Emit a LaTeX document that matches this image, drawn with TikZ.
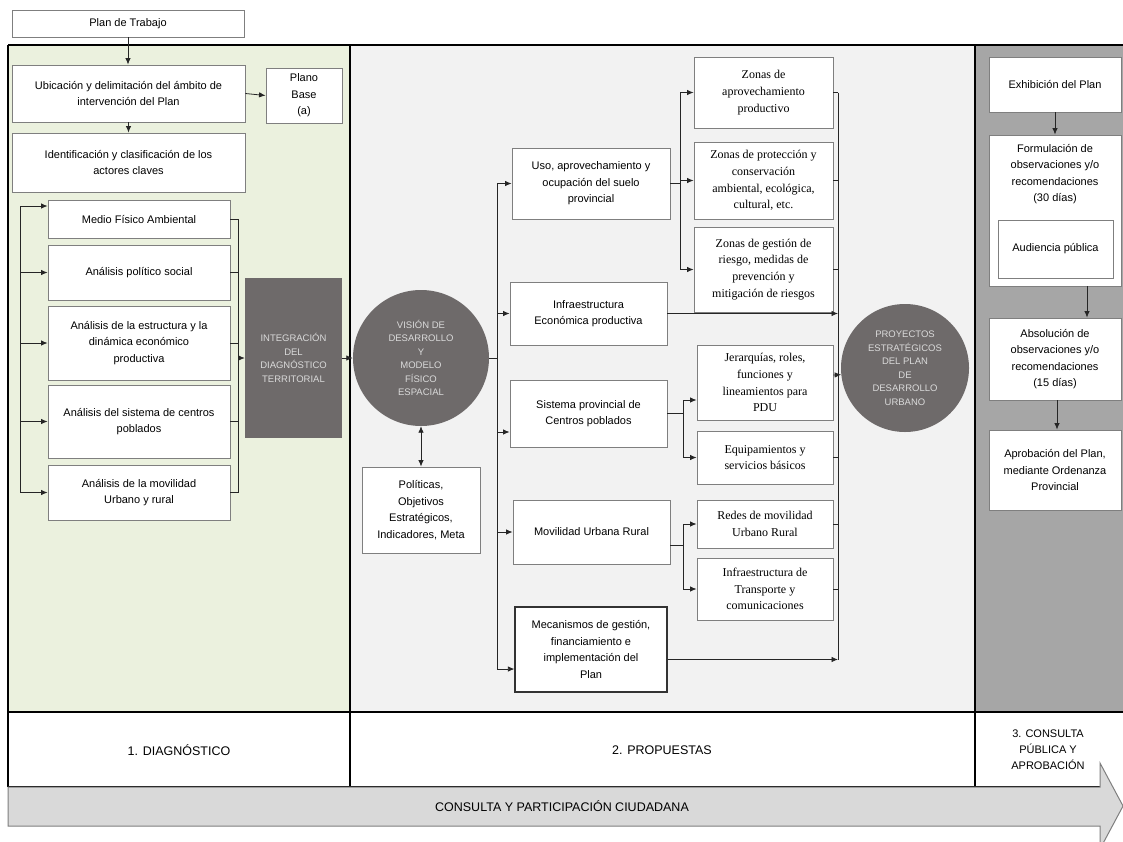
\documentclass[tikz,border=0pt]{standalone}
\usepackage{fontspec}
\setmainfont{Liberation Sans}
\newfontfamily\zserif{Liberation Serif}
\usetikzlibrary{arrows.meta,calc}
\definecolor{pgreen}{HTML}{EBF1DE}
\definecolor{pmid}{HTML}{F2F2F2}
\definecolor{pright}{HTML}{A6A6A6}
\definecolor{dgray}{HTML}{6E6A6A}
\definecolor{tlight}{HTML}{DADADA}
\definecolor{bgray}{HTML}{7F7F7F}
\definecolor{afill}{HTML}{D9D9D9}
\newcommand\fsA{\fontsize{11}{16.5}\selectfont}
\newcommand\fsS{\zserif\fontsize{12}{16.8}\selectfont}
\newcommand\fsC{\fontsize{9.5}{13.5}\selectfont}
\newcommand\fsL{\fontsize{12.5}{15}\selectfont}
\tikzset{
  box/.style={draw=bgray, fill=white, line width=0.9pt, align=center, inner sep=1pt, font=\fsA},
  sbox/.style={box, font=\fsS},
  dark/.style={fill=dgray, draw=none, align=center, text=tlight, font=\fsC, inner sep=1pt},
  disc/.style={circle, dark},
  ar/.style={-{Latex[length=6.5pt,width=5.5pt]}, line width=0.8pt, draw=black!85},
  dar/.style={{Latex[length=6.5pt,width=5.5pt]}-{Latex[length=6.5pt,width=5.5pt]}, line width=0.8pt, draw=black!85},
  ln/.style={line width=0.8pt, draw=black!85},
  framel/.style={line width=2pt, draw=black},
  lab/.style={font=\fsL, align=center}
}
\begin{document}
\begin{tikzpicture}[x=1pt,y=-1pt]
\useasboundingbox (0,0) rectangle (1123,841);
\fill[white] (0,0) rectangle (1123,841);
% panels
\fill[pgreen] (8,45) rectangle (350,712);
\fill[pmid] (350,45) rectangle (975,712);
\fill[pright] (975,45) rectangle (1123,712);
\fill[white] (8,712) rectangle (1123,787);
\draw[framel] (8,45) -- (1123,45);
\draw[framel] (8,45) -- (8,787);
\draw[framel] (350,45) -- (350,787);
\draw[framel] (975,45) -- (975,787);
\draw[framel] (8,712) -- (1123,712);
\draw[framel] (8,787) -- (1100,787);
% bottom arrow
\draw[fill=afill, draw=bgray, line width=1pt] (8,787) -- (1100,787) -- (1100,763) -- (1123,806) -- (1100,849) -- (1100,826) -- (8,826) -- cycle;
\node[lab] (cpc) at (562,806) {CONSULTA Y PARTICIPACIÓN CIUDADANA};
\node[lab] (lab1) at (179,750) {1. DIAGNÓSTICO};
\node[lab] (lab2) at (662,750) {2. PROPUESTAS};
\node[font=\fontsize{11}{16}\selectfont, align=center] (lab3) at (1048,750) {3. CONSULTA\\PÚBLICA Y\\APROBACIÓN};

% ---- panel 1
\node[box, minimum width=232, minimum height=27] (plan) at (128,23.5) {Plan de Trabajo};
\node[box, minimum width=233, minimum height=57] (ubic) at (128.5,93.5) {Ubicación y delimitación del ámbito de\\intervención del Plan};
\node[box, minimum width=76, minimum height=55] (plano) at (304,95.5) {Plano\\Base\\(a)};
\node[box, minimum width=233, minimum height=59] (ident) at (128.5,162.5) {Identificación y clasificación de los\\actores claves};
\node[box, minimum width=182, minimum height=38] (medio) at (139,219) {Medio Físico Ambiental};
\node[box, minimum width=182, minimum height=55] (polit) at (139,272.5) {Análisis político social};
\node[box, minimum width=182, minimum height=74] (estr) at (139,343) {Análisis de la estructura y la\\dinámica económico\\productiva};
\node[box, minimum width=182, minimum height=73] (sist1) at (139,421.5) {Análisis del sistema de centros\\poblados};
\node[box, minimum width=182, minimum height=55] (movil1) at (139,492.5) {Análisis de la movilidad\\Urbano y rural};
\node[dark, minimum width=97, minimum height=160] (integ) at (293.5,358) {INTEGRACIÓN\\DEL\\DIAGNÓSTICO\\TERRITORIAL};

\draw[ar] (plan.south) -- (plan.south |- ubic.north);
\draw[ar] (ubic.south) -- (ident.north);
\draw[ar] (ubic.east) -- (plano.west);
\coordinate (lbT) at (20,206);
\coordinate (lbB) at (20,492.5);
\draw[ln] (lbT) -- (lbB);
\draw[ar] (lbT) -- (lbT -| medio.west);
\draw[ar] (polit.west -| lbT) -- (polit.west);
\draw[ar] (estr.west -| lbT) -- (estr.west);
\draw[ar] (sist1.west -| lbT) -- (sist1.west);
\draw[ar] (movil1.west -| lbT) -- (movil1.west);
\coordinate (rbx) at (238,358);
\draw[ln] (medio.east) -- (medio.east -| rbx);
\draw[ln] (polit.east) -- (polit.east -| rbx);
\draw[ln] (estr.east) -- (estr.east -| rbx);
\draw[ln] (sist1.east) -- (sist1.east -| rbx);
\draw[ln] (movil1.east) -- (movil1.east -| rbx);
\draw[ln] (medio.east -| rbx) -- (movil1.east -| rbx);
\draw[ar] (rbx) -- (integ.west);

% ---- panel 2
\node[disc, minimum size=136] (circ1) at (421,358) {VISIÓN DE\\DESARROLLO\\Y\\MODELO\\FÍSICO\\ESPACIAL};
\node[box, minimum width=118, minimum height=86] (pol) at (421,510) {Políticas,\\Objetivos\\Estratégicos,\\Indicadores, Meta};
\draw[ar] (integ.east) -- (circ1.west);
\draw[dar] (circ1.south) -- (pol.north);

\node[box, minimum width=158, minimum height=71] (uso) at (591,183.5) {Uso, aprovechamiento y\\ocupación del suelo\\provincial};
\node[box, minimum width=157, minimum height=63] (infra) at (588.5,313.5) {Infraestructura\\Económica productiva};
\node[box, minimum width=157, minimum height=67] (sistp) at (588.5,413.5) {Sistema provincial de\\Centros poblados};
\node[box, minimum width=157, minimum height=64] (movp) at (591.5,532) {Movilidad Urbana Rural};
\node[box, draw=black!80, line width=1.2pt, minimum width=152, minimum height=85] (mec) at (591,649.5) {Mecanismos de gestión,\\financiamiento e\\implementación del\\Plan};

\node[sbox, minimum width=139, minimum height=71] (za) at (763.5,92.5) {Zonas de\\aprovechamiento\\productivo};
\node[sbox, minimum width=139, minimum height=77] (zp) at (763.5,180.5) {Zonas de protección y\\conservación\\ambiental, ecológica,\\cultural, etc.};
\node[sbox, minimum width=139, minimum height=85] (zr) at (763.5,269.5) {Zonas de gestión de\\riesgo, medidas de\\prevención y\\mitigación de riesgos};
\node[sbox, minimum width=136, minimum height=75] (jer) at (765,382.5) {Jerarquías, roles,\\funciones y\\lineamientos para\\PDU};
\node[sbox, minimum width=136, minimum height=53] (eq) at (765,457.5) {Equipamientos y\\servicios básicos};
\node[sbox, minimum width=136, minimum height=48] (red) at (765,524) {Redes de movilidad\\Urbano Rural};
\node[sbox, minimum width=136, minimum height=62] (itc) at (765,589) {Infraestructura de\\Transporte y\\comunicaciones};

\node[disc, minimum size=128] (circ2) at (905,368) {PROYECTOS\\ESTRATÉGICOS\\DEL PLAN\\DE\\DESARROLLO\\URBANO};

% central bus
\coordinate (cb) at (497,358);
\draw[ln] (circ1.east) -- (cb);
\draw[ln] (uso.west -| cb) -- ([yshift=-19.5pt]mec.west -| cb);
\draw[ar] (uso.west -| cb) -- (uso.west);
\draw[ar] (infra.west -| cb) -- (infra.west);
\draw[ar] ([yshift=-18.5pt]sistp.west -| cb) -- ([yshift=-18.5pt]sistp.west);
\draw[ar] (movp.west -| cb) -- (movp.west);
\draw[ar] ([yshift=-19.5pt]mec.west -| cb) -- ([yshift=-19.5pt]mec.west);

% uso sub-bus
\coordinate (ub) at (680,183.5);
\draw[ln] (uso.east) -- (ub);
\draw[ln] (za.west -| ub) -- (zr.west -| ub);
\draw[ar] (za.west -| ub) -- (za.west);
\draw[ar] (zp.west -| ub) -- (zp.west);
\draw[ar] (zr.west -| ub) -- (zr.west);
% sistema sub-bus
\coordinate (sb) at (683,413.5);
\draw[ln] (sistp.east) -- (sb);
\draw[ln] ([yshift=-17.5pt]jer.west -| sb) -- (eq.west -| sb);
\draw[ar] ([yshift=-17.5pt]jer.west -| sb) -- ([yshift=-17.5pt]jer.west);
\draw[ar] (eq.west -| sb) -- (eq.west);
% movilidad sub-bus
\coordinate (mb) at (683,545);
\draw[ln] ([yshift=-13pt]movp.east) -- (mb);
\draw[ln] (red.west -| mb) -- (itc.west -| mb);
\draw[ar] (red.west -| mb) -- (red.west);
\draw[ar] (itc.west -| mb) -- (itc.west);

% collector bus
\coordinate (kb) at (838,368);
\draw[ln] (za.east -| kb) -- ([yshift=-10pt]mec.east -| kb);
\draw[ln] (za.east) -- (za.east -| kb);
\draw[ln] (zp.east) -- (zp.east -| kb);
\draw[ln] (zr.east) -- (zr.east -| kb);
\draw[ln] (eq.east) -- (eq.east -| kb);
\draw[ln] (red.east) -- (red.east -| kb);
\draw[ln] (itc.east) -- (itc.east -| kb);
\draw[ar] (infra.east) -- (infra.east -| kb);
\draw[ar] ([yshift=-10pt]mec.east) -- ([yshift=-10pt]mec.east -| kb);
\draw[ar] ([yshift=7.5pt]jer.east) -- (circ2.186);

% ---- panel 3
\node[box, minimum width=132, minimum height=55] (exh) at (1055,84.5) {Exhibición del Plan};
\node[box, minimum width=132, minimum height=151] (form) at (1055,210.5) {};
\node[font=\fsA, align=center] (formt) at (1055,174) {Formulación de\\observaciones y/o\\recomendaciones\\(30 días)};
\node[box, minimum width=115, minimum height=58] (aud) at (1055.5,249) {Audiencia pública};
\node[box, minimum width=132, minimum height=82] (abs) at (1055,359) {Absolución de\\observaciones y/o\\recomendaciones\\(15 días)};
\node[box, minimum width=132, minimum height=80] (apr) at (1055,470) {Aprobación del Plan,\\mediante Ordenanza\\Provincial};
\draw[ar] (exh.south) -- (form.north);
\draw[ar] ([xshift=32pt]form.south) -- ([xshift=32pt]abs.north);
\draw[ar] ([xshift=2pt]abs.south) -- ([xshift=2pt]apr.north);
\end{tikzpicture}
\end{document}
